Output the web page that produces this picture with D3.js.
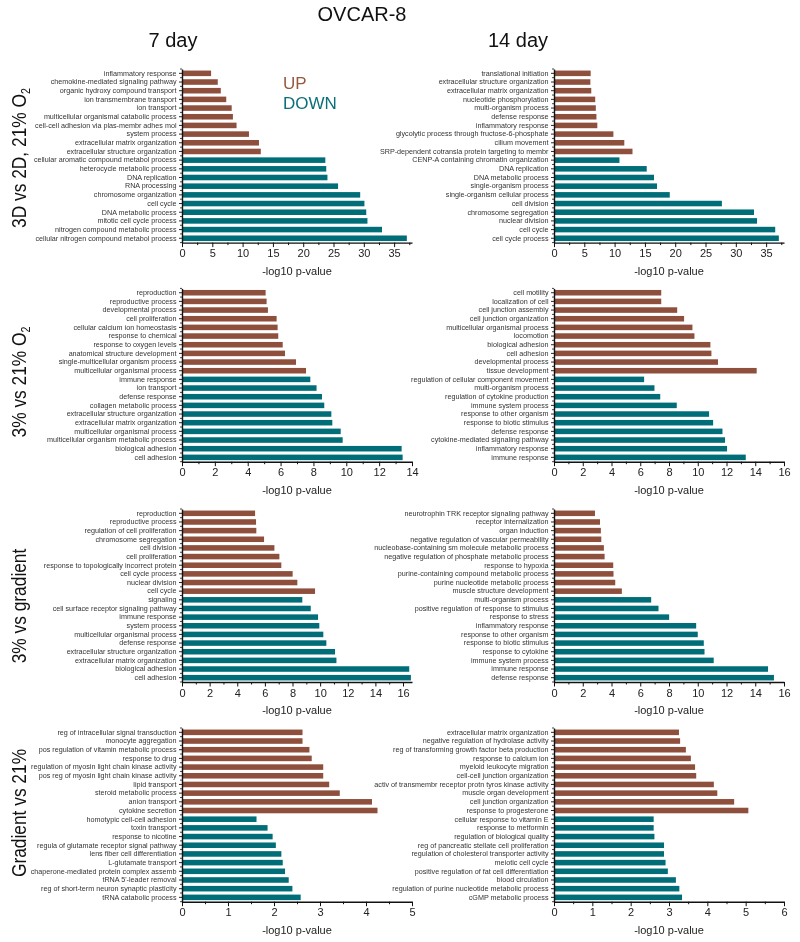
<!DOCTYPE html>
<html>
<head>
<meta charset="utf-8">
<script src="https://cdn.jsdelivr.net/npm/d3@7"></script>
<style>
  body { margin: 0; background: #fff; }
  svg { display: block; will-change: transform; }
  svg text { font-family: "Liberation Sans", Arial, Helvetica, sans-serif; }
</style>
</head>
<body>
<svg id="chart" width="800" height="942"></svg>
<script>
// ---- data: GO terms, -log10 p-value, top to bottom ----

// 3D vs 2D, 21% O2 - 7 day
const up3d7Labels = ["inflammatory response", "chemokine-mediated signaling pathway", "organic hydroxy compound transport", "ion transmembrane transport", "ion transport", "multicellular organismal catabolic process", "cell-cell adhesion via plas-membr adhes mol", "system process", "extracellular matrix organization", "extracellular structure organization"];
const up3d7Values = [4.8, 5.9, 6.4, 7.3, 8.2, 8.4, 9.0, 11.05, 12.7, 13.0];
const down3d7Labels = ["cellular aromatic compound metabol process", "heterocycle metabolic process", "DNA replication", "RNA processing", "chromosome organization", "cell cycle", "DNA metabolic process", "mitotic cell cycle process", "nitrogen compound metabolic process", "cellular nitrogen compound metabol process"];
const down3d7Values = [23.65, 23.8, 24.0, 25.75, 29.4, 30.1, 30.4, 30.6, 33.0, 37.1];

// 3D vs 2D, 21% O2 - 14 day
const up3d14Labels = ["translational initiation", "extracellular structure organization", "extracellular matrix organization", "nucleotide phosphorylation", "multi-organism process", "defense response", "inflammatory response", "glycolytic process through fructose-6-phosphate", "cilium movement", "SRP-dependent cotransla protein targeting to membr"];
const up3d14Values = [6.05, 6.0, 6.15, 6.8, 6.9, 7.0, 7.15, 9.8, 11.6, 12.95];
const down3d14Labels = ["CENP-A containing chromatin organization", "DNA replication", "DNA metabolic process", "single-organism process", "single-organism cellular process", "cell division", "chromosome segregation", "nuclear division", "cell cycle", "cell cycle process"];
const down3d14Values = [10.8, 15.3, 16.5, 17.0, 19.1, 27.7, 33.0, 33.5, 36.5, 37.1];

// 3% vs 21% O2 - 7 day
const up3v21d7Labels = ["reproduction", "reproductive process", "developmental process", "cell proliferation", "cellular calcium ion homeostasis", "response to chemical", "response to oxygen levels", "anatomical structure development", "single-multicellular organism process", "multicellular organismal process"];
const up3v21d7Values = [5.09, 5.15, 5.23, 5.76, 5.82, 5.86, 6.13, 6.27, 6.94, 7.55];
const down3v21d7Labels = ["immune response", "ion transport", "defense response", "collagen metabolic process", "extracellular structure organization", "extracellular matrix organization", "multicellular organismal process", "multicellular organism metabolic process", "biological adhesion", "cell adhesion"];
const down3v21d7Values = [7.81, 8.19, 8.52, 8.66, 9.09, 9.15, 9.66, 9.78, 13.37, 13.43];

// 3% vs 21% O2 - 14 day
const up3v21d14Labels = ["cell motility", "localization of cell", "cell junction assembly", "cell junction organization", "multicellular organismal process", "locomotion", "biological adhesion", "cell adhesion", "developmental process", "tissue development"];
const up3v21d14Values = [7.46, 7.46, 8.57, 9.05, 9.63, 9.77, 10.88, 10.95, 11.41, 14.1];
const down3v21d14Labels = ["regulation of cellular component movement", "multi-organism process", "regulation of cytokine production", "immune system process", "response to other organism", "response to biotic stimulus", "defense response", "cytokine-mediated signaling pathway", "inflammatory response", "immune response"];
const down3v21d14Values = [6.27, 6.99, 7.39, 8.54, 10.79, 11.07, 11.72, 11.9, 12.04, 13.34];

// 3% vs gradient - 7 day
const up3vgd7Labels = ["reproduction", "reproductive process", "regulation of cell proliferation", "chromosome segregation", "cell division", "cell proliferation", "response to topologically incorrect protein", "cell cycle process", "nuclear division", "cell cycle"];
const up3vgd7Values = [5.29, 5.36, 5.38, 5.94, 6.69, 7.05, 7.19, 8.01, 8.35, 9.63];
const down3vgd7Labels = ["signaling", "cell surface receptor signaling pathway", "immune response", "system process", "multicellular organismal process", "defense response", "extracellular structure organization", "extracellular matrix organization", "biological adhesion", "cell adhesion"];
const down3vgd7Values = [8.71, 9.32, 9.85, 9.94, 10.23, 10.45, 11.08, 11.18, 16.45, 16.57];

// 3% vs gradient - 14 day
const up3vgd14Labels = ["neurotrophin TRK receptor signaling pathway", "receptor internalization", "organ induction", "negative regulation of vascular permeability", "nucleobase-containing sm molecule metabolic process", "negative regulation of phosphate metabolic process", "response to hypoxia", "purine-containing compound metabolic process", "purine nucleotide metabolic process", "muscle structure development"];
const up3vgd14Values = [2.85, 3.2, 3.26, 3.29, 3.47, 3.52, 4.12, 4.14, 4.26, 4.72];
const down3vgd14Labels = ["multi-organism process", "positive regulation of response to stimulus", "response to stress", "inflammatory response", "response to other organism", "response to biotic stimulus", "response to cytokine", "immune system process", "immune response", "defense response"];
const down3vgd14Values = [6.76, 7.27, 8.01, 9.89, 10.0, 10.42, 10.47, 11.11, 14.89, 15.3];

// Gradient vs 21% - 7 day
const upgv21d7Labels = ["reg of intracellular signal transduction", "monocyte aggregation", "pos regulation of vitamin metabolic process", "response to drug", "regulation of myosin light chain kinase activity", "pos reg of myosin light chain kinase activity", "lipid transport", "steroid metabolic process", "anion transport", "cytokine secretion"];
const upgv21d7Values = [2.62, 2.62, 2.77, 2.82, 3.07, 3.07, 3.2, 3.43, 4.13, 4.25];
const downgv21d7Labels = ["homotypic cell-cell adhesion", "toxin transport", "response to nicotine", "regula of glutamate receptor signal pathway", "lens fiber cell differentiation", "L-glutamate transport", "chaperone-mediated protein complex assemb", "tRNA 5'-leader removal", "reg of short-term neuron synaptic plasticity", "tRNA catabolic process"];
const downgv21d7Values = [1.62, 1.86, 1.97, 2.04, 2.16, 2.19, 2.24, 2.32, 2.4, 2.58];

// Gradient vs 21% - 14 day
const upgv21d14Labels = ["extracellular matrix organization", "negative regulation of hydrolase activity", "reg of transforming growth factor beta production", "response to calcium ion", "myeloid leukocyte migration", "cell-cell junction organization", "activ of transmembr receptor protn tyros kinase activity", "muscle organ development", "cell junction organization", "response to progesterone"];
const upgv21d14Values = [3.26, 3.29, 3.44, 3.57, 3.68, 3.71, 4.17, 4.26, 4.7, 5.07];
const downgv21d14Labels = ["cellular response to vitamin E", "response to metformin", "regulation of biological quality", "reg of pancreatic stellate cell proliferation", "regulation of cholesterol transporter activity", "meiotic cell cycle", "positive regulation of fat cell differentiation", "blood circulation", "regulation of purine nucleotide metabolic process", "cGMP metabolic process"];
const downgv21d14Values = [2.6, 2.6, 2.62, 2.87, 2.87, 2.91, 2.97, 3.18, 3.27, 3.34];

// x axis settings per panel: [max, major step, minor step]
const axis3d7 = [37.95, 5, 2.5], axis3d14 = [37.95, 5, 2.5];
const axis3v21d7 = [14, 2, 1], axis3v21d14 = [16, 2, 1];
const axis3vgd7 = [16.65, 2, 1], axis3vgd14 = [16, 2, 1];
const axisgv21d7 = [5, 1, 0.5], axisgv21d14 = [6, 1, 0.5];

const rowTitles = [["3D vs 2D, 21% O", "2"], ["3% vs 21% O", "2"], ["3% vs gradient", ""], ["Gradient vs 21%", ""]];

// ---- layout ----
const UP_COLOR = "#8e4f3d", DOWN_COLOR = "#006e78";
const colX = [182, 554], plotW = 230;
const rows = [
  { top: 69, bottom: 242.6, titleY: 158 },
  { top: 288.4, bottom: 461.7, titleY: 382 },
  { top: 509, bottom: 682, titleY: 606 },
  { top: 728, bottom: 901.7, titleY: 813 }
];

const panels = [
  [up3d7Labels, up3d7Values, down3d7Labels, down3d7Values, axis3d7, 0, 0],
  [up3d14Labels, up3d14Values, down3d14Labels, down3d14Values, axis3d14, 0, 1],
  [up3v21d7Labels, up3v21d7Values, down3v21d7Labels, down3v21d7Values, axis3v21d7, 1, 0],
  [up3v21d14Labels, up3v21d14Values, down3v21d14Labels, down3v21d14Values, axis3v21d14, 1, 1],
  [up3vgd7Labels, up3vgd7Values, down3vgd7Labels, down3vgd7Values, axis3vgd7, 2, 0],
  [up3vgd14Labels, up3vgd14Values, down3vgd14Labels, down3vgd14Values, axis3vgd14, 2, 1],
  [upgv21d7Labels, upgv21d7Values, downgv21d7Labels, downgv21d7Values, axisgv21d7, 3, 0],
  [upgv21d14Labels, upgv21d14Values, downgv21d14Labels, downgv21d14Values, axisgv21d14, 3, 1]
];

const svg = d3.select("#chart");

// titles
svg.append("text").attr("x", 362).attr("y", 21).attr("text-anchor", "middle")
  .attr("font-size", 20).attr("fill", "#111").text("OVCAR-8");
svg.append("text").attr("x", 173).attr("y", 47).attr("text-anchor", "middle")
  .attr("font-size", 20).attr("fill", "#111").text("7 day");
svg.append("text").attr("x", 518).attr("y", 47).attr("text-anchor", "middle")
  .attr("font-size", 20).attr("fill", "#111").text("14 day");

// legend
svg.append("text").attr("x", 283).attr("y", 89).attr("font-size", 17)
  .attr("fill", "#98573f").text("UP");
svg.append("text").attr("x", 283).attr("y", 109).attr("font-size", 17)
  .attr("fill", "#0b6f79").text("DOWN");

// row titles, rotated (font is a bit condensed in the original)
rowTitles.forEach((t, i) => {
  const txt = svg.append("text")
    .attr("transform", `translate(26,${rows[i].titleY}) rotate(-90) scale(0.89,1)`)
    .attr("text-anchor", "middle")
    .attr("font-size", 19.5)
    .attr("fill", "#111");
  txt.append("tspan").text(t[0]);
  if (t[1]) txt.append("tspan").attr("font-size", 12).attr("dy", 4).text(t[1]);
});

function drawPanel([upLabels, upValues, downLabels, downValues, axisCfg, r, c]) {
  const labels = upLabels.concat(downLabels);
  const values = upValues.concat(downValues);
  const [max, step, minor] = axisCfg;
  const row = rows[r];
  const x0 = colX[c];

  const x = d3.scaleLinear().domain([0, max]).range([x0, x0 + plotW]);
  const y = d3.scaleBand().domain(d3.range(labels.length))
    .range([row.top, row.bottom]).paddingInner(0.36).paddingOuter(0.18);

  const g = svg.append("g");

  // bars
  g.selectAll("rect.bar").data(values).enter().append("rect")
    .attr("class", "bar")
    .attr("x", x(0))
    .attr("y", (d, i) => y(i))
    .attr("width", d => x(d) - x(0))
    .attr("height", y.bandwidth())
    .attr("fill", (d, i) => i < upLabels.length ? UP_COLOR : DOWN_COLOR);

  // y minor ticks between categories
  g.selectAll("line.ymin").data(d3.range(labels.length + 1)).enter().append("line")
    .attr("x1", x0 - 2).attr("x2", x0)
    .attr("y1", i => row.top + (row.bottom - row.top) * i / labels.length)
    .attr("y2", i => row.top + (row.bottom - row.top) * i / labels.length)
    .attr("stroke", "#111").attr("stroke-width", 0.8);

  // y axis
  const yAxis = d3.axisLeft(y).tickSize(3).tickSizeOuter(0).tickPadding(2.5)
    .tickFormat(i => labels[i]);
  const ya = g.append("g").attr("transform", `translate(${x0},0)`).call(yAxis);
  ya.select(".domain").attr("stroke", "#111").attr("stroke-width", 1.4);
  ya.selectAll(".tick line").attr("stroke", "#111").attr("stroke-width", 0.9);
  ya.selectAll(".tick text").attr("font-size", 7.2).attr("fill", "#333")
    .attr("font-family", "\"Liberation Sans\", Arial, sans-serif");

  // x axis minor
  const minorVals = d3.range(0, max + 1e-9, minor).filter(v => Math.abs(v / step - Math.round(v / step)) > 1e-6);
  const xMinor = g.append("g").attr("transform", `translate(0,${row.bottom})`)
    .call(d3.axisBottom(x).tickValues(minorVals).tickSize(2.5).tickSizeOuter(0).tickFormat(""));
  xMinor.select(".domain").remove();
  xMinor.selectAll(".tick line").attr("stroke", "#111").attr("stroke-width", 1);

  // x axis major
  const majorVals = d3.range(0, max + 1e-9, step);
  const xa = g.append("g").attr("transform", `translate(0,${row.bottom})`)
    .call(d3.axisBottom(x).tickValues(majorVals).tickSize(4.5).tickSizeOuter(0)
      .tickPadding(2.5).tickFormat(d3.format("d")));
  xa.select(".domain").attr("stroke", "#111").attr("stroke-width", 1.4);
  xa.selectAll(".tick line").attr("stroke", "#111").attr("stroke-width", 1);
  xa.selectAll(".tick text").attr("font-size", 11).attr("fill", "#222")
    .attr("font-family", "\"Liberation Sans\", Arial, sans-serif");

  // x axis title
  g.append("text").attr("x", x0 + plotW / 2).attr("y", row.bottom + 32)
    .attr("text-anchor", "middle").attr("font-size", 11).attr("fill", "#222")
    .text("-log10 p-value");
}

panels.forEach(drawPanel);
</script>
</body>
</html>
